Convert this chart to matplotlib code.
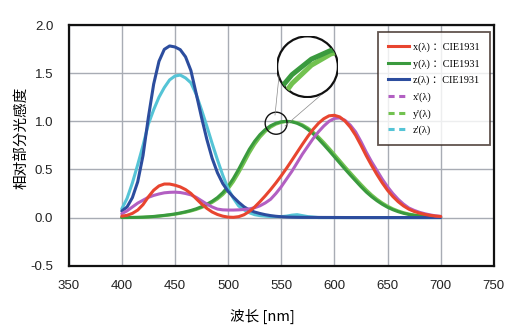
import numpy as np
import matplotlib.pyplot as plt
from matplotlib.lines import Line2D
from matplotlib.patches import Circle, Ellipse

plt.rcParams['font.family'] = ['Liberation Sans', 'Noto Sans CJK SC']

# wavelength grid (nm), 5 nm steps
wl = list(range(400, 701, 5))

# CIE1931 colour matching functions
x_cie = [0.0143, 0.0232, 0.0435, 0.0776, 0.1344, 0.2148, 0.2839, 0.3285, 0.3483, 0.3481,
         0.3362, 0.3187, 0.2908, 0.2511, 0.1954, 0.1421, 0.0956, 0.0580, 0.0320, 0.0147,
         0.0049, 0.0024, 0.0093, 0.0291, 0.0633, 0.1096, 0.1655, 0.2258, 0.2904, 0.3597,
         0.4335, 0.5121, 0.5945, 0.6784, 0.7621, 0.8425, 0.9163, 0.9786, 1.0263, 1.0567,
         1.0622, 1.0456, 1.0026, 0.9384, 0.8545, 0.7514, 0.6424, 0.5419, 0.4479, 0.3608,
         0.2835, 0.2187, 0.1649, 0.1212, 0.0874, 0.0636, 0.0468, 0.0329, 0.0227, 0.0158,
         0.0114]
y_cie = [0.0004, 0.0006, 0.0012, 0.0022, 0.0040, 0.0073, 0.0116, 0.0168, 0.0230, 0.0298,
         0.0380, 0.0480, 0.0600, 0.0739, 0.0910, 0.1126, 0.1390, 0.1693, 0.2080, 0.2586,
         0.3230, 0.4073, 0.5030, 0.6082, 0.7100, 0.7932, 0.8620, 0.9149, 0.9540, 0.9803,
         0.9950, 1.0000, 0.9950, 0.9786, 0.9520, 0.9154, 0.8700, 0.8163, 0.7570, 0.6949,
         0.6310, 0.5668, 0.5030, 0.4412, 0.3810, 0.3210, 0.2650, 0.2170, 0.1750, 0.1382,
         0.1070, 0.0816, 0.0610, 0.0446, 0.0320, 0.0232, 0.0170, 0.0119, 0.0082, 0.0057,
         0.0041]
z_cie = [0.0679, 0.1102, 0.2074, 0.3713, 0.6456, 1.0391, 1.3856, 1.6230, 1.7471, 1.7826,
         1.7721, 1.7441, 1.6692, 1.5281, 1.2876, 1.0419, 0.8130, 0.6162, 0.4652, 0.3533,
         0.2720, 0.2123, 0.1582, 0.1117, 0.0783, 0.0573, 0.0422, 0.0298, 0.0203, 0.0134,
         0.0088, 0.0058, 0.0039, 0.0028, 0.0021, 0.0018, 0.0017, 0.0014, 0.0011, 0.0010,
         0.0008, 0.0006, 0.0003, 0.0002, 0.0002, 0.0001, 0.0001, 0.0000, 0.0000, 0.0000,
         0.0000, 0.0000, 0.0000, 0.0000, 0.0000, 0.0000, 0.0000, 0.0000, 0.0000, 0.0000,
         0.0000]

# sensor response x'(λ), y'(λ), z'(λ)
x_s = [0.040, 0.070, 0.110, 0.150, 0.180, 0.210, 0.230, 0.245, 0.257, 0.262,
       0.264, 0.260, 0.250, 0.236, 0.210, 0.175, 0.140, 0.110, 0.088, 0.080,
       0.078, 0.078, 0.080, 0.084, 0.090, 0.102, 0.122, 0.152, 0.190, 0.250,
       0.320, 0.400, 0.480, 0.570, 0.660, 0.740, 0.820, 0.890, 0.950, 1.000,
       1.030, 1.035, 1.010, 0.960, 0.890, 0.790, 0.680, 0.580, 0.490, 0.400,
       0.320, 0.250, 0.190, 0.140, 0.100, 0.075, 0.055, 0.040, 0.028, 0.018,
       0.012]
y_s = [0.0003, 0.0005, 0.0010, 0.0018, 0.0033, 0.0060, 0.0095, 0.0145, 0.0205, 0.0270,
       0.0340, 0.0440, 0.0550, 0.0680, 0.0840, 0.1040, 0.1280, 0.1570, 0.1930, 0.2380,
       0.2970, 0.3730, 0.4650, 0.5660, 0.6700, 0.7600, 0.8350, 0.8940, 0.9390, 0.9700,
       0.9890, 0.9980, 0.9970, 0.9850, 0.9630, 0.9300, 0.8880, 0.8380, 0.7810, 0.7200,
       0.6570, 0.5930, 0.5280, 0.4660, 0.4050, 0.3450, 0.2880, 0.2360, 0.1910, 0.1520,
       0.1190, 0.0910, 0.0690, 0.0510, 0.0370, 0.0270, 0.0200, 0.0140, 0.0100, 0.0070,
       0.0050]
z_s = [0.090, 0.200, 0.360, 0.550, 0.750, 0.970, 1.120, 1.250, 1.350, 1.430,
       1.470, 1.480, 1.450, 1.400, 1.280, 1.120, 0.950, 0.770, 0.600, 0.440,
       0.300, 0.200, 0.120, 0.080, 0.050, 0.030, 0.020, 0.015, 0.010, 0.010,
       0.010, 0.015, 0.025, 0.030, 0.020, 0.010, 0.005, 0.000, 0.000, 0.000,
       0.000, 0.000, 0.000, 0.000, 0.000, 0.000, 0.000, 0.000, 0.000, 0.000,
       0.000, 0.000, 0.000, 0.000, 0.000, 0.000, 0.000, 0.000, 0.000, 0.000,
       0.000]

labels = ['x(λ) ：CIE1931', 'y(λ) ：CIE1931', 'z(λ) ：CIE1931',
          "x'(λ)", "y'(λ)", "z'(λ)"]
colors = ['#e8452f', '#3a9a3e', '#2c4d9e', '#b25fc2', '#72c250', '#55c4d6']

fig = plt.figure(figsize=(5.16, 3.34), dpi=100)
ax = fig.add_axes([0.133, 0.2045, 0.824, 0.7206])

series = [x_cie, y_cie, z_cie, x_s, y_s, z_s]
order = [4, 1, 5, 2, 3, 0]
for i in order:
    ax.plot(wl, series[i], color=colors[i], lw=2.2,
            solid_capstyle='round', solid_joinstyle='round')

ax.set_xlim(350, 750)
ax.set_ylim(-0.5, 2.0)
ax.set_xticks(np.arange(350, 751, 50))
ax.set_yticks(np.arange(-0.5, 2.01, 0.5))
ax.set_yticklabels(['-0.5', '0.0', '0.5', '1.0', '1.5', '2.0'])
ax.grid(True, color='#a8acb4', lw=1.0)
ax.set_axisbelow(True)
ax.tick_params(length=0, labelsize=9.5, colors='#222222')
ax.tick_params(axis='y', pad=11)
ax.tick_params(axis='x', pad=10)
for s in ax.spines.values():
    s.set_color('#111111')
    s.set_linewidth(1.6)

ax.set_ylabel('相对部分光感度', fontsize=10.5,
              family=['Noto Sans CJK SC', 'DejaVu Sans'])
ax.yaxis.set_label_coords(-0.092, 0.533)
fig.text(0.508, 0.04, '波长 [nm]', fontsize=10.5, ha='center',
         family=['Noto Sans CJK SC', 'DejaVu Sans'])

# legend
handles = []
for i in range(6):
    ls = '-' if i < 3 else (0, (2.0, 1.5))
    handles.append(Line2D([0], [0], color=colors[i], lw=2.2, ls=ls))
leg = ax.legend(handles, labels, loc='upper right', bbox_to_anchor=(0.99, 0.97),
                borderaxespad=0,
                prop={'family': ['Liberation Serif', 'Noto Sans CJK SC'], 'size': 7.4},
                frameon=True, fancybox=False, edgecolor='#3a2a22',
                handlelength=2.0, labelspacing=0.68, borderpad=1.0,
                handletextpad=0.4)
leg.get_frame().set_linewidth(1.3)

# magnifier: small circle on the curve and zoomed inset
ax.add_patch(Ellipse((545.2, 0.98), 20.6, 0.229, fill=False, ec='#111111', lw=1.0, zorder=5))
fig.add_artist(Line2D([275 / 516, 279 / 516], [1 - 115 / 334, 1 - 76 / 334],
                      color='#888888', lw=0.5))
fig.add_artist(Line2D([285 / 516, 321 / 516], [1 - 126 / 334, 1 - 95 / 334],
                      color='#888888', lw=0.5))

ins = fig.add_axes([276.5 / 516, 1 - 97.7 / 334, 62 / 516, 62 / 334])
ins.axis('off')
circ = Circle((0.5, 0.5), 0.49, transform=ins.transAxes, fc='white', ec='none')
ins.add_patch(circ)
for i in [4, 1]:
    ln, = ins.plot(wl, series[i], color=colors[i], lw=3.6,
                   solid_joinstyle='round')
    ln.set_clip_path(circ)
ins.set_xlim(536, 552)
ins.set_ylim(0.915, 1.02)
ins.add_patch(Circle((0.5, 0.5), 0.49, transform=ins.transAxes, fill=False,
                     ec='#111111', lw=1.6))

fig.savefig('out.png', dpi=100)
